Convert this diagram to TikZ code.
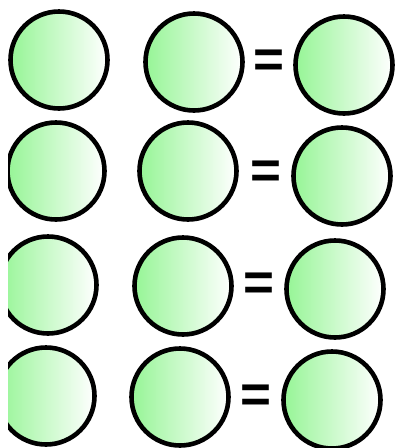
\documentclass[tikz,border=0pt]{standalone}
\usepackage{fontspec}
\setmainfont{Liberation Sans}
\definecolor{ballgreen}{RGB}{150,245,150}
\tikzset{
  ball/.style={circle, draw=black, line width=4.6pt, minimum size=97pt, inner sep=0pt,
    left color=ballgreen, right color=white},
  eqsign/.style={anchor=base, inner sep=0pt, font=\fontsize{53}{53}\selectfont\bfseries}
}
\begin{document}
\begin{tikzpicture}[x=1pt,y=-1pt]
\useasboundingbox (0,0) rectangle (397,448);
\clip (8,0) rectangle (397,448);
% row 1
\node[ball] (l1) at (59,60) {};
\node[ball] (m1) at (194,62) {};
\node[ball] (r1) at (344,65) {};
\node[eqsign] (e1) at (269,77.5) {=};
% row 2
\node[ball] (l2) at (56,171) {};
\node[ball] (m2) at (188,171) {};
\node[ball] (r2) at (342,176) {};
\node[eqsign] (e2) at (266,188.5) {=};
% row 3
\node[ball] (l3) at (48,285) {};
\node[ball] (m3) at (183,286) {};
\node[ball] (r3) at (335,289) {};
\node[eqsign] (e3) at (259,300.5) {=};
% row 4
\node[ball] (l4) at (46,396) {};
\node[ball] (m4) at (180,397) {};
\node[ball] (r4) at (332,400) {};
\node[eqsign] (e4) at (256,412.5) {=};
\end{tikzpicture}
\end{document}
